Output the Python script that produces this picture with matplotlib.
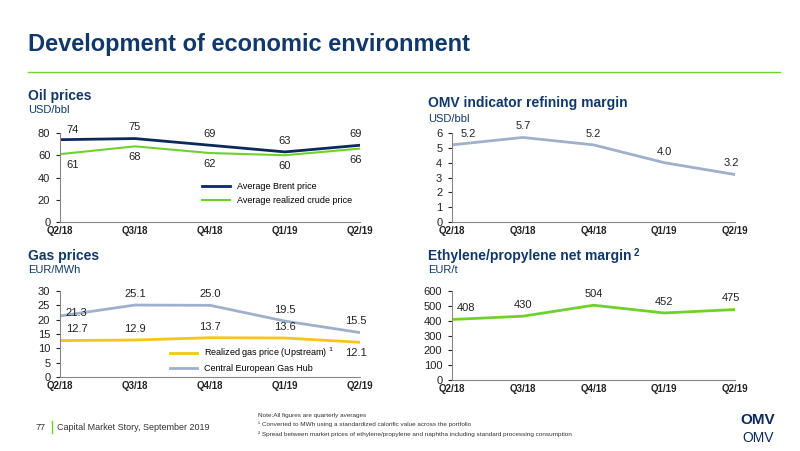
import matplotlib
matplotlib.use("Agg")
import matplotlib.pyplot as plt

quarters = ["Q2/18", "Q3/18", "Q4/18", "Q1/19", "Q2/19"]
brent = [74, 75, 69, 63, 69]
realized_crude = [61, 68, 62, 60, 66]
refining_margin = [5.2, 5.7, 5.2, 4.0, 3.2]
gas_realized = [12.7, 12.9, 13.7, 13.6, 12.1]
gas_hub = [21.3, 25.1, 25.0, 19.5, 15.5]
ethylene_margin = [408, 430, 504, 452, 475]

NAVY = "#0b2a5b"
GREEN = "#6fd12b"
YELLOW = "#f5c518"
GREY = "#9fb0cc"
TITLE = "#10386b"
plt.rcParams['font.family'] = ['Liberation Sans', 'DejaVu Sans']

fig = plt.figure(figsize=(8, 4.51), dpi=100)
W, H = 800, 451

def ax_px(l, t, r, b):
    return fig.add_axes([l / W, 1 - b / H, (r - l) / W, (b - t) / H])

def style(ax, ylim, yticks, fmt="{:g}"):
    ax.set_xlim(0, len(quarters) - 1)
    ax.set_ylim(*ylim)
    ax.set_yticks(yticks)
    ax.set_yticklabels([fmt.format(v) for v in yticks], fontsize=8)
    ax.set_xticks(list(range(len(quarters))))
    ax.set_xticklabels(quarters, fontsize=7, fontweight="bold")
    for s in ["top", "right"]:
        ax.spines[s].set_visible(False)
    for s in ["left", "bottom"]:
        ax.spines[s].set_color("#888888")
        ax.spines[s].set_linewidth(0.8)
    ax.tick_params(axis="y", length=3, pad=4, colors="#222222")
    ax.tick_params(axis="x", length=0, pad=3, colors="#222222")
    ax.patch.set_alpha(0)

def labels(ax, vals, offs, fmt="{:g}", first_dx=9):
    for i, (v, o) in enumerate(zip(vals, offs)):
        dx = first_dx if i == 0 else (-3 if i == len(vals) - 1 else 0)
        ax.annotate(fmt.format(v), (i, v), xytext=(dx, o), textcoords="offset points",
                    ha="center", va="center", fontsize=8, color="#222222")

x = list(range(len(quarters)))

# Oil
ax1 = ax_px(60, 133, 360, 222)
ax1.plot(x, brent, color=NAVY, lw=2, label="Average Brent price")
ax1.plot(x, realized_crude, color=GREEN, lw=1.5, label="Average realized crude price")
style(ax1, (0, 80), [0, 20, 40, 60, 80])
labels(ax1, brent, [7, 8, 8, 8, 8])
labels(ax1, realized_crude, [-8, -8, -8, -8, -8])
ax1.legend(loc="lower right", bbox_to_anchor=(1.0, 0.1), fontsize=6.5, frameon=False, handlelength=3)

# Refining
ax2 = ax_px(452, 133, 735, 222)
ax2.plot(x, refining_margin, color=GREY, lw=2)
style(ax2, (0, 6), [0, 1, 2, 3, 4, 5, 6])
labels(ax2, refining_margin, [8, 8, 8, 8, 8], "{:.1f}", first_dx=12)

# Gas
ax3 = ax_px(60, 291, 360, 377)
ax3.plot(x, gas_realized, color=YELLOW, lw=2, label="Realized gas price (Upstream) $^1$")
ax3.plot(x, gas_hub, color=GREY, lw=2, label="Central European Gas Hub")
style(ax3, (0, 30), [0, 5, 10, 15, 20, 25, 30])
labels(ax3, gas_realized, [8, 8, 8, 8, -8], "{:.1f}", first_dx=12)
labels(ax3, gas_hub, [2, 8, 8, 8, 8], "{:.1f}", first_dx=12)
ax3.legend(loc="lower right", bbox_to_anchor=(0.94, -0.05), fontsize=6.5, frameon=False, handlelength=3)

# Ethylene
ax4 = ax_px(452, 291, 735, 380)
ax4.plot(x, ethylene_margin, color=GREEN, lw=2)
style(ax4, (0, 600), [0, 100, 200, 300, 400, 500, 600])
labels(ax4, ethylene_margin, [8, 8, 8, 8, 8], "{:g}", first_dx=10)

# Titles / text
fig.text(28 / W, 1 - 45 / H, "Development of economic environment", fontsize=17, fontweight="bold", color=TITLE, va="center")
fig.add_artist(plt.Line2D([28 / W, 780 / W], [1 - 72 / H] * 2, color=GREEN, lw=1))
fig.text(28 / W, 1 - 96 / H, "Oil prices", fontsize=10, fontweight="bold", color=TITLE, va="center")
fig.text(28 / W, 1 - 110 / H, "USD/bbl", fontsize=8, color=TITLE, va="center")
fig.text(428 / W, 1 - 103 / H, "OMV indicator refining margin", fontsize=10, fontweight="bold", color=TITLE, va="center")
fig.text(428 / W, 1 - 119 / H, "USD/bbl", fontsize=8, color=TITLE, va="center")
fig.text(28 / W, 1 - 256 / H, "Gas prices", fontsize=10, fontweight="bold", color=TITLE, va="center")
fig.text(28 / W, 1 - 270 / H, "EUR/MWh", fontsize=8, color=TITLE, va="center")
fig.text(428 / W, 1 - 256 / H, "Ethylene/propylene net margin", fontsize=10, fontweight="bold", color=TITLE, va="center")
fig.text(634 / W, 1 - 253 / H, "2", fontsize=7, fontweight="bold", color=TITLE, va="center")
fig.text(428 / W, 1 - 270 / H, "EUR/t", fontsize=8, color=TITLE, va="center")

fig.text(36 / W, 1 - 427 / H, "77", fontsize=6.5, color="#333333", va="center")
fig.add_artist(plt.Line2D([52 / W, 52 / W], [1 - 421 / H, 1 - 433 / H], color=GREEN, lw=1))
fig.text(57 / W, 1 - 427 / H, "Capital Market Story, September 2019", fontsize=6.5, color="#333333", va="center")
fig.text(258 / W, 1 - 415 / H, "Note:All figures are quarterly averages", fontsize=4.6, color="#333333", va="center")
fig.text(258 / W, 1 - 424.5 / H, "\u00b9 Converted to MWh using a standardized calorific value across the portfolio", fontsize=4.6, color="#333333", va="center")
fig.text(258 / W, 1 - 434 / H, "\u00b2 Spread between market prices of ethylene/propylene and naphtha including standard processing consumption", fontsize=4.6, color="#333333", va="center")
fig.text(758 / W, 1 - 420 / H, "OMV", fontsize=11, fontweight="bold", color=NAVY, ha="center", va="center")
fig.text(758 / W, 1 - 438 / H, "OMV", fontsize=10, color=NAVY, ha="center", va="center")

fig.savefig("out.png", dpi=100)
